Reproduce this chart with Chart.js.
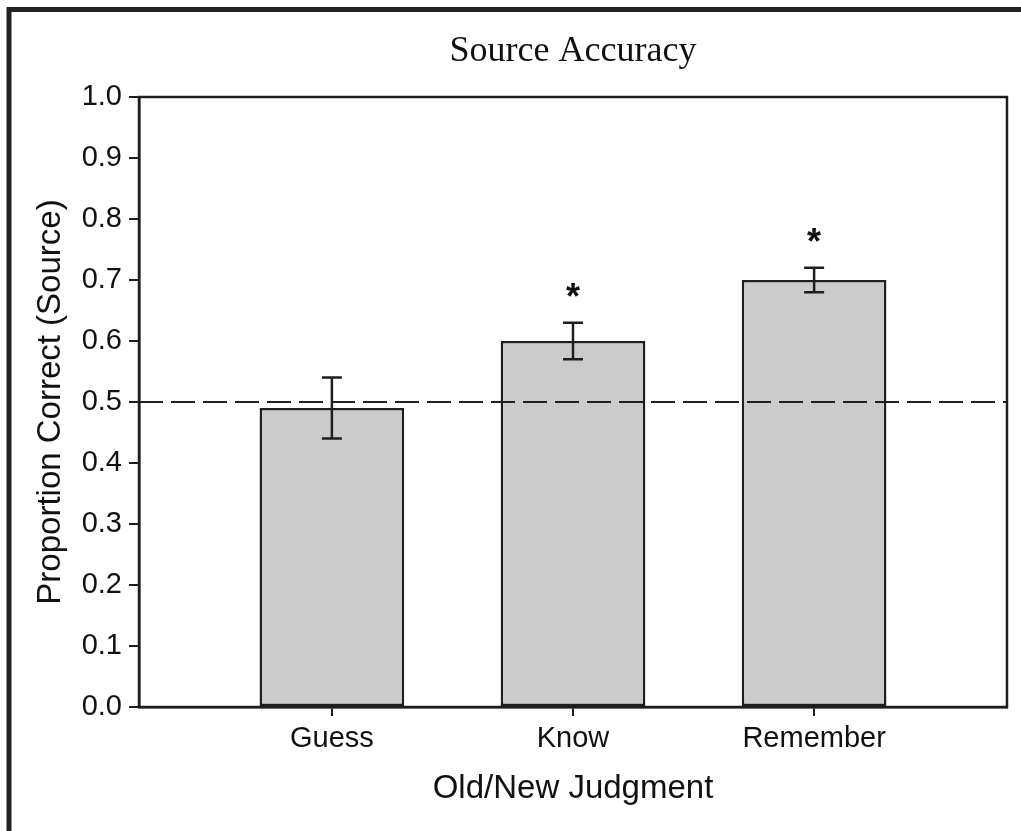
<!DOCTYPE html>
<html>
<head>
<meta charset="utf-8">
<script src="https://cdn.jsdelivr.net/npm/chart.js@4/dist/chart.umd.min.js"></script>
<style>
  html, body { margin: 0; padding: 0; background: #ffffff; }
  #wrap { width: 1021px; height: 831px; position: relative; }
</style>
</head>
<body>
<div id="wrap"><canvas id="chart" width="1021" height="831"></canvas></div>
<script>
// Source accuracy by old/new judgment
const categories = ['Guess', 'Know', 'Remember'];
const means = [0.49, 0.60, 0.70];
const errLow = [0.44, 0.57, 0.68];
const errHigh = [0.54, 0.63, 0.72];
const significant = [false, true, true];
const yTicks = [0, 0.1, 0.2, 0.3, 0.4, 0.5, 0.6, 0.7, 0.8, 0.9, 1.0];
const chanceLevel = 0.5;

const INK = '#1e1e1e';
const SANS = "'Liberation Sans', Arial, sans-serif";

// Outer figure frame, chart title, plot box, chance line, error bars and markers
const decorations = {
  id: 'decorations',
  beforeDraw(chart) {
    const ctx = chart.ctx;
    const area = chart.chartArea;
    ctx.save();
    ctx.fillStyle = '#ffffff';
    ctx.fillRect(0, 0, chart.width, chart.height);
    // figure frame
    ctx.strokeStyle = '#222222';
    ctx.lineWidth = 5;
    ctx.beginPath();
    ctx.moveTo(9, chart.height + 20);
    ctx.lineTo(9, 9.5);
    ctx.lineTo(chart.width + 20, 9.5);
    ctx.stroke();
    // title
    ctx.fillStyle = '#111111';
    ctx.font = "36px 'Liberation Serif', 'Times New Roman', serif";
    ctx.textAlign = 'center';
    ctx.textBaseline = 'middle';
    ctx.fillText('Source Accuracy', (area.left + area.right) / 2, 52);
    ctx.restore();
  },
  afterDatasetsDraw(chart) {
    const ctx = chart.ctx;
    const area = chart.chartArea;
    const xs = chart.scales.x;
    const ys = chart.scales.y;
    ctx.save();
    // chance line
    const yc = ys.getPixelForValue(chanceLevel);
    ctx.strokeStyle = INK;
    ctx.lineWidth = 2.2;
    ctx.setLineDash([24, 8]);
    ctx.beginPath();
    ctx.moveTo(area.left, yc);
    ctx.lineTo(area.right, yc);
    ctx.stroke();
    ctx.setLineDash([]);
    // error bars
    ctx.lineWidth = 2.5;
    categories.forEach((c, i) => {
      const x = xs.getPixelForValue(i);
      const yl = ys.getPixelForValue(errLow[i]);
      const yh = ys.getPixelForValue(errHigh[i]);
      ctx.beginPath();
      ctx.moveTo(x, yl); ctx.lineTo(x, yh);
      ctx.moveTo(x - 10, yl); ctx.lineTo(x + 10, yl);
      ctx.moveTo(x - 10, yh); ctx.lineTo(x + 10, yh);
      ctx.stroke();
      if (significant[i]) {
        ctx.fillStyle = '#111111';
        ctx.font = 'bold 36px ' + SANS;
        ctx.textAlign = 'center';
        ctx.textBaseline = 'middle';
        ctx.fillText('*', x, yh - 24);
      }
    });
    // plot box
    ctx.lineWidth = 2.5;
    ctx.strokeStyle = INK;
    ctx.strokeRect(area.left, area.top, area.right - area.left, area.bottom - area.top);
    ctx.restore();
  }
};

new Chart(document.getElementById('chart'), {
  type: 'bar',
  data: {
    datasets: [{
      data: categories.map((c, i) => ({ x: i, y: means[i] })),
      backgroundColor: '#cbcbcb',
      borderColor: INK,
      borderWidth: 2.5,
      borderSkipped: false,
      categoryPercentage: 1.0,
      barPercentage: 0.6
    }]
  },
  options: {
    responsive: false,
    animation: false,
    devicePixelRatio: 1,
    layout: { padding: { left: 0, top: 97, right: 14, bottom: 0 } },
    plugins: {
      legend: { display: false },
      tooltip: { enabled: false },
      title: { display: false }
    },
    scales: {
      x: {
        type: 'linear',
        min: -0.8,
        max: 2.8,
        offset: false,
        afterFit(scale) { scale.height = 124; },
        afterBuildTicks(scale) { scale.ticks = categories.map((c, i) => ({ value: i })); },
        ticks: {
          autoSkip: false,
          maxRotation: 0,
          padding: 6,
          color: '#111111',
          font: { family: SANS, size: 29 },
          callback: (v) => categories[v]
        },
        grid: {
          offset: false,
          drawOnChartArea: false,
          drawTicks: true,
          tickLength: 9,
          color: INK,
          lineWidth: 2
        },
        border: { display: true, color: INK, width: 2.5 },
        title: {
          display: true,
          text: 'Old/New Judgment',
          color: '#111111',
          font: { family: SANS, size: 33 },
          padding: { top: 0, bottom: 22 }
        }
      },
      y: {
        min: 0,
        max: 1,
        afterFit(scale) { scale.width = 139; },
        afterBuildTicks(scale) { scale.ticks = yTicks.map(v => ({ value: v })); },
        ticks: {
          padding: 7,
          color: '#111111',
          font: { family: SANS, size: 29 },
          callback: (v) => v.toFixed(1)
        },
        grid: {
          drawOnChartArea: false,
          drawTicks: true,
          tickLength: 10,
          color: INK,
          lineWidth: 2
        },
        border: { display: true, color: INK, width: 2.5 },
        title: {
          display: true,
          text: 'Proportion Correct (Source)',
          color: '#111111',
          font: { family: SANS, size: 33 },
          padding: { top: 31, bottom: 0 }
        }
      }
    }
  },
  plugins: [decorations]
});
</script>
</body>
</html>
